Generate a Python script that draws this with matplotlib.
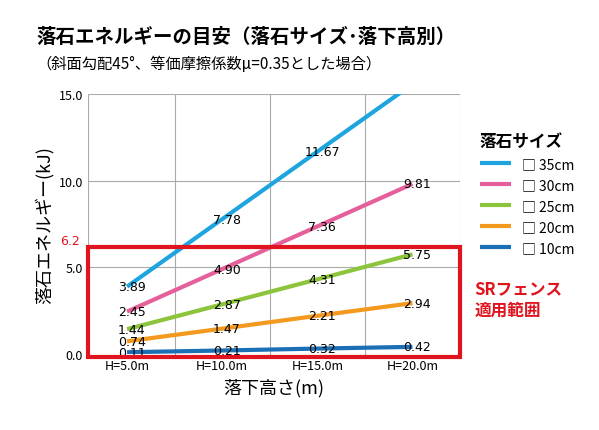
import matplotlib
matplotlib.use("Agg")
import matplotlib.pyplot as plt
from matplotlib.patches import Rectangle

plt.rcParams['font.family'] = ['Noto Sans CJK JP', 'DejaVu Sans']

categories = ["H=5.0m", "H=10.0m", "H=15.0m", "H=20.0m"]
series_names = ["□ 35cm", "□ 30cm", "□ 25cm", "□ 20cm", "□ 10cm"]
colors = ["#1ea5e0", "#e5609a", "#8cc43c", "#f39a1e", "#1a6fb5"]
v35 = [3.89, 7.78, 11.67, 15.56]
v30 = [2.45, 4.90, 7.36, 9.81]
v25 = [1.44, 2.87, 4.31, 5.75]
v20 = [0.74, 1.47, 2.21, 2.94]
v10 = [0.11, 0.21, 0.32, 0.42]
series = [v35, v30, v25, v20, v10]
limit = 6.2

fig = plt.figure(figsize=(5.99, 4.31), dpi=100)
ax = fig.add_axes([0.147, 0.176, 0.621, 0.604])
x = list(range(len(categories)))
for vals, c, n in zip(series, colors, series_names):
    ax.plot(x, vals, color=c, lw=3, label=n, solid_capstyle='butt')
    for xi, v in zip(x, vals):
        if v <= 15:
            ax.text(xi + 0.05, v, f"{v:.2f}", fontsize=9, ha='center', va='center', family='DejaVu Sans')
ax.set_xlim(-0.41, 3.5)
ax.set_ylim(0, 15)
ax.set_yticks([0, 5, 10, 15])
ax.set_yticklabels(["0.0", "5.0", "10.0", "15.0"], fontsize=9)
ax.set_xticks(x)
ax.set_xticklabels(categories, fontsize=9)
ax.tick_params(length=0)
ax.set_xticks([-0.41, 0.5, 1.5, 2.5, 3.5], minor=True)
ax.grid(True, which='minor', axis='x', color='#aaaaaa', lw=0.8)
ax.grid(True, which='major', axis='y', color='#aaaaaa', lw=0.8)
for s in ax.spines.values():
    s.set_visible(False)
ax.add_patch(Rectangle((-0.41, -0.15), 3.91, limit + 0.15, fill=False, ec='#e0141e', lw=3, clip_on=False, zorder=5))
ax.text(-0.5, limit, "6.2", color='#e0141e', fontsize=9, ha='right', va='bottom', family='DejaVu Sans')
ax.text(3.65, 4.3, "SRフェンス\n適用範囲", color='#e0141e', fontsize=12, fontweight='bold', ha='left', va='top', linespacing=1.2)
ax.set_ylabel("落石エネルギー(kJ)", fontsize=13)
ax.set_xlabel("落下高さ(m)", fontsize=13)
leg = ax.legend(loc='upper left', bbox_to_anchor=(1.02, 0.9), frameon=False, fontsize=10,
                handlelength=2.2, title="落石サイズ", title_fontproperties={'size': 12, 'weight': 'bold'})
leg._legend_box.align = "left"
fig.text(0.06, 0.9, "落石エネルギーの目安（落石サイズ･落下高別）", fontsize=14, fontweight='bold')
fig.text(0.06, 0.84, "（斜面勾配45°、等価摩擦係数μ=0.35とした場合）", fontsize=11)
fig.savefig("out.png", dpi=100)
